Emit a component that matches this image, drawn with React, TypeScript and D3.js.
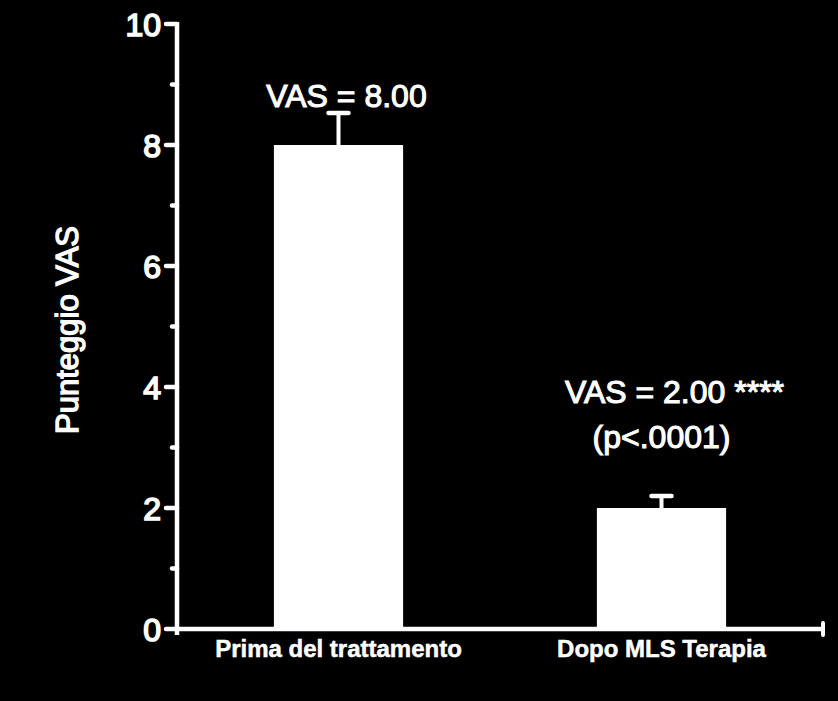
import React from "react";
import * as d3 from "d3";

const categories = ["Prima del trattamento", "Dopo MLS Terapia"];
const means = [8.0, 2.0];
const errors = [0.53, 0.2];
const annotations = [["VAS = 8.00"], ["VAS = 2.00 ****", "(p<.0001)"]];
const majorTicks = [0, 2, 4, 6, 8, 10];
const minorTicks = [1, 3, 5, 7, 9];
const yTitle = "Punteggio VAS";

const W = 838;
const H = 701;
const FONT = "'Liberation Sans', Arial, Helvetica, sans-serif";

export default function App() {
  const x0 = 177;
  const x1 = 823;
  const y = d3.scaleLinear().domain([0, 10]).range([629, 24]);
  const x = d3
    .scaleBand<string>()
    .domain(categories)
    .range([x0, x1])
    .paddingInner(0.6)
    .paddingOuter(0.3);
  const bw = x.bandwidth();
  const annOffsets = [8, 13];
  const heavy = { stroke: "#fff", strokeWidth: 1.1, paintOrder: "stroke" as const };

  return (
    <svg
      width={W}
      height={H}
      style={{ position: "absolute", left: 0, top: 0, display: "block", background: "#000" }}
    >
      <rect x={0} y={0} width={W} height={H} fill="#000" />
      {categories.map((c, i) => {
        const bx = x(c)!;
        const cx = bx + bw / 2;
        return (
          <g key={c}>
            <rect x={bx} y={y(means[i])} width={bw} height={y(0) - y(means[i])} fill="#fff" />
            <line
              x1={cx}
              x2={cx}
              y1={y(means[i])}
              y2={y(means[i] + errors[i])}
              stroke="#fff"
              strokeWidth={4}
            />
            <line
              x1={cx - 10}
              x2={cx + 10}
              y1={y(means[i] + errors[i])}
              y2={y(means[i] + errors[i])}
              stroke="#fff"
              strokeWidth={4.5}
              strokeLinecap="round"
            />
            {annotations[i].map((t, j) => (
              <text
                key={j}
                x={cx + (j === 0 ? annOffsets[i] : 0)}
                y={y(means[i] + errors[i]) - (i === 0 ? 6 : 93) + j * 45}
                textAnchor="middle"
                fill="#fff"
                fontFamily={FONT}
                fontSize={32}
                {...heavy}
              >
                {t}
              </text>
            ))}
            <text
              x={cx}
              y={657}
              textAnchor="middle"
              fill="#fff"
              fontFamily={FONT}
              fontWeight="bold"
              fontSize={24}
              stroke="#fff"
              strokeWidth={0.5}
            >
              {c}
            </text>
          </g>
        );
      })}
      <line x1={x0} x2={x0} y1={y(10) - 2} y2={y(0) + 6} stroke="#fff" strokeWidth={4.5} />
      {majorTicks.map((t) => (
        <g key={t}>
          <line x1={x0 - 11} x2={x0} y1={y(t)} y2={y(t)} stroke="#fff" strokeWidth={4.5} strokeLinecap="round" />
          <text
            x={161}
            y={y(t) + 11.5}
            textAnchor="end"
            fill="#fff"
            fontFamily={FONT}
            fontSize={32}
            {...heavy}
            strokeWidth={1.6}
          >
            {t}
          </text>
        </g>
      ))}
      {minorTicks.map((t) => (
        <line key={t} x1={x0 - 5} x2={x0} y1={y(t)} y2={y(t)} stroke="#fff" strokeWidth={4.5} strokeLinecap="round" />
      ))}
      <line x1={x0} x2={x1} y1={y(0)} y2={y(0)} stroke="#fff" strokeWidth={4.5} />
      <line x1={x1} x2={x1} y1={y(0) - 6} y2={y(0) + 6} stroke="#fff" strokeWidth={4} strokeLinecap="round" />
      <text
        transform={`translate(78,330) rotate(-90)`}
        textAnchor="middle"
        fill="#fff"
        fontFamily={FONT}
        fontSize={31}
        {...heavy}
        strokeWidth={1.4}
      >
        {yTitle}
      </text>
    </svg>
  );
}
